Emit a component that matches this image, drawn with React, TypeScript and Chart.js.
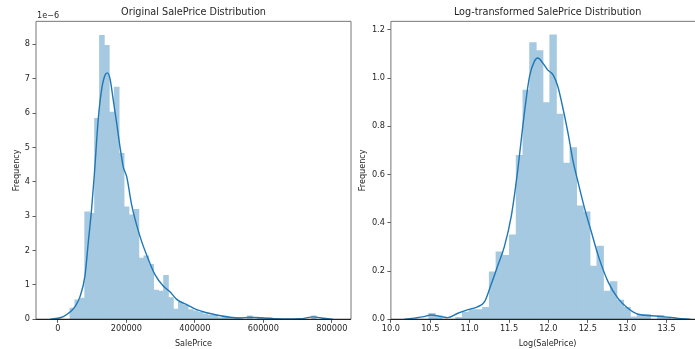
import React, { useEffect, useRef } from "react";
import { Chart, registerables } from "chart.js";

Chart.register(...registerables);

// ---------- Left panel: SalePrice (density values in units of 1e-6) ----------
const priceBinStart = 34900;
const priceBinWidth = 14402;
const priceDensity = [
  0.33, 0.57, 0.62, 3.13, 3.08, 5.85, 8.26, 7.97, 6.03, 6.76,
  4.83, 3.27, 3.04, 3.2, 1.78, 1.85, 1.6, 0.85, 0.82, 1.28,
  0.63, 0.3, 0.5, 0.42, 0.28, 0.25, 0.2, 0.15, 0.12, 0.12,
  0.05, 0.08, 0.03, 0.03, 0.05, 0, 0.1, 0, 0.05, 0.02,
  0.05, 0, 0.02, 0, 0, 0, 0, 0, 0, 0.1,
];
const priceKdeX = [
  -23000, 0, 15800, 35300, 49900, 64500, 79100, 88800, 98700, 106300,
  118000, 127900, 137500, 144200, 152100, 161800, 171700, 181300, 191000, 200900,
  215500, 230100, 244700, 264000, 283500, 307700, 327300, 346900, 376100, 405300,
  434500, 463600, 502500, 530000, 560900, 609600, 660000, 706900, 745700, 775000, 803200,
];
const priceKdeY = [
  0.0, 0.03, 0.08, 0.21, 0.37, 0.66, 1.27, 2.25, 3.25, 4.2,
  5.85, 6.7, 7.1, 7.17, 7.0, 6.37, 5.7, 5.02, 4.43, 4.15,
  3.32, 2.74, 2.26, 1.75, 1.3, 0.97, 0.8, 0.58, 0.43, 0.28,
  0.19, 0.125, 0.06, 0.04, 0.06, 0.03, 0.01, 0.015, 0.07, 0.03, 0.0,
];
const priceTicks = [0, 200000, 400000, 600000, 800000];
const priceDensityTicks = [0, 1, 2, 3, 4, 5, 6, 7, 8];

// ---------- Right panel: Log(SalePrice) ----------
const logBinStart = 10.48;
const logBinWidth = 0.0854;
const logDensity = [
  0.025, 0.015, 0, 0, 0.008, 0.03, 0.04, 0.04, 0.05, 0.197,
  0.28, 0.265, 0.35, 0.68, 0.95, 1.147, 1.114, 0.898, 1.179, 0.851,
  0.647, 0.712, 0.47, 0.445, 0.221, 0.304, 0.117, 0.156, 0.08, 0.05,
  0.01, 0.02, 0.02, 0, 0.016, 0.008,
];
const logKdeX = [
  10.17, 10.3, 10.42, 10.51, 10.64, 10.72, 10.85, 10.97, 11.1, 11.19,
  11.27, 11.36, 11.44, 11.53, 11.6, 11.7, 11.76, 11.82, 11.866, 11.93,
  11.99, 12.06, 12.12, 12.18, 12.25, 12.31, 12.375, 12.46, 12.545, 12.63,
  12.757, 12.884, 13.01, 13.14, 13.31, 13.48, 13.65, 13.8,
];
const logKdeY = [
  0.0, 0.005, 0.011, 0.018, 0.011, 0.007, 0.025, 0.039, 0.052, 0.073,
  0.142, 0.225, 0.3, 0.43, 0.59, 0.868, 1.006, 1.068, 1.083, 1.062,
  1.034, 1.013, 0.965, 0.882, 0.771, 0.661, 0.571, 0.46, 0.363, 0.267,
  0.156, 0.087, 0.046, 0.021, 0.015, 0.01, 0.004, 0.0,
];
const logTicks = [10.0, 10.5, 11.0, 11.5, 12.0, 12.5, 13.0, 13.5];
const logDensityTicks = [0.0, 0.2, 0.4, 0.6, 0.8, 1.0, 1.2];

// ---------- styling ----------
const FONT = "DejaVu Sans";
const TEXT = "#262626";
const BAR = "rgb(165,201,225)";
const LINE = "#1f77b4";

const framePlugin = {
  id: "frame",
  afterDatasetsDraw(chart: any) {
    const { ctx, chartArea } = chart;
    const { left, right, top, bottom } = chartArea;
    ctx.save();
    ctx.lineWidth = 1;
    ctx.strokeStyle = "#777";
    ctx.beginPath();
    ctx.moveTo(left, bottom);
    ctx.lineTo(left, top);
    ctx.lineTo(right, top);
    ctx.lineTo(right, bottom);
    ctx.stroke();
    ctx.strokeStyle = "#222";
    ctx.lineWidth = 1.2;
    ctx.beginPath();
    ctx.moveTo(left, bottom);
    ctx.lineTo(right, bottom);
    ctx.stroke();
    ctx.restore();
  },
};

const offsetTextPlugin = (text: string) => ({
  id: "offsetText",
  afterDraw(chart: any) {
    const { ctx, chartArea } = chart;
    ctx.save();
    ctx.font = `8.1px "${FONT}"`;
    ctx.fillStyle = TEXT;
    ctx.textAlign = "left";
    ctx.textBaseline = "middle";
    ctx.fillText(text, chartArea.left + 1, chartArea.top - 5.6);
    ctx.restore();
  },
});

function makeConfig(opts: {
  title: string;
  xTitle: string;
  bars: { x: number; y: number }[];
  kde: { x: number; y: number }[];
  xMin: number;
  xMax: number;
  xTicks: number[];
  yMax: number;
  yTicks: number[];
  xFmt: (v: number) => string;
  yFmt: (v: number) => string;
  yAxisWidth: number;
  yTitlePad: number;
  rightPad: number;
  plugins: any[];
}) {
  const tickFont = { family: FONT, size: 8.2 };
  const labelFont = { family: FONT, size: 8.1 };
  return {
    type: "bar" as const,
    data: {
      datasets: [
        {
          type: "line" as const,
          data: opts.kde,
          borderColor: LINE,
          borderWidth: 1.4,
          pointRadius: 0,
          fill: false,
          cubicInterpolationMode: "monotone" as const,
          order: 0,
        },
        {
          type: "bar" as const,
          data: opts.bars,
          backgroundColor: BAR,
          borderWidth: 0,
          barPercentage: 1,
          categoryPercentage: 1,
          order: 1,
        },
      ],
    },
    options: {
      responsive: false,
      animation: false as const,
      events: [],
      layout: { padding: { left: 0, top: 0, right: opts.rightPad, bottom: 0 } },
      plugins: {
        legend: { display: false },
        tooltip: { enabled: false },
        title: {
          display: true,
          text: opts.title,
          fullSize: false,
          color: TEXT,
          font: { family: FONT, size: 9.7, weight: "normal" as const },
          padding: { top: 6.9, bottom: 2.8 },
        },
      },
      scales: {
        x: {
          type: "linear" as const,
          min: opts.xMin,
          max: opts.xMax,
          offset: false,
          grid: {
            display: true,
            offset: false,
            drawOnChartArea: false,
            drawTicks: true,
            tickLength: 3.5,
            tickColor: "#333",
            tickWidth: 0.8,
          },
          border: { display: false },
          ticks: {
            autoSkip: false,
            maxRotation: 0,
            padding: 1,
            color: TEXT,
            font: tickFont,
            callback: (v: any) => opts.xFmt(Number(v)),
          },
          afterBuildTicks: (s: any) => {
            s.ticks = opts.xTicks.map((value) => ({ value }));
          },
          title: {
            display: true,
            text: opts.xTitle,
            color: TEXT,
            font: labelFont,
            padding: { top: 4.8, bottom: 0 },
          },
          afterFit: (s: any) => {
            s.height = 29.7;
          },
        },
        y: {
          type: "linear" as const,
          min: 0,
          max: opts.yMax,
          grid: {
            display: true,
            drawOnChartArea: false,
            drawTicks: true,
            tickLength: 3.5,
            tickColor: "#333",
            tickWidth: 0.8,
          },
          border: { display: false },
          ticks: {
            padding: 2.5,
            color: TEXT,
            font: tickFont,
            callback: (v: any) => opts.yFmt(Number(v)),
          },
          afterBuildTicks: (s: any) => {
            s.ticks = opts.yTicks.map((value) => ({ value }));
          },
          title: {
            display: true,
            text: "Frequency",
            color: TEXT,
            font: labelFont,
            padding: { top: opts.yTitlePad, bottom: 0 },
          },
          afterFit: (s: any) => {
            s.width = opts.yAxisWidth;
          },
        },
      },
    },
    plugins: opts.plugins,
  };
}

function ChartCanvas({ config, left, width }: { config: any; left: number; width: number }) {
  const ref = useRef<HTMLCanvasElement | null>(null);
  useEffect(() => {
    if (!ref.current) return;
    const chart = new Chart(ref.current, config);
    return () => chart.destroy();
  }, [config]);
  return (
    <canvas
      ref={ref}
      width={width}
      height={349}
      style={{ position: "absolute", left, top: 0, width, height: 349, display: "block" }}
    />
  );
}

const priceBars = priceDensity.map((y, i) => ({ x: priceBinStart + (i + 0.5) * priceBinWidth, y }));
const priceKde = priceKdeX.map((x, i) => ({ x, y: priceKdeY[i] }));
const logBars = logDensity.map((y, i) => ({ x: logBinStart + (i + 0.5) * logBinWidth, y }));
const logKde = logKdeX.map((x, i) => ({ x, y: logKdeY[i] }));

const leftConfig = makeConfig({
  title: "Original SalePrice Distribution",
  xTitle: "SalePrice",
  bars: priceBars,
  kde: priceKde,
  xMin: -64000,
  xMax: 856000,
  xTicks: priceTicks,
  yMax: 8.67,
  yTicks: priceDensityTicks,
  xFmt: (v) => String(Math.round(v)),
  yFmt: (v) => String(Math.round(v)),
  yAxisWidth: 36,
  yTitlePad: 11.6,
  rightPad: 14,
  plugins: [framePlugin, offsetTextPlugin("1e\u22126")],
});

const rightConfig = makeConfig({
  title: "Log-transformed SalePrice Distribution",
  xTitle: "Log(SalePrice)",
  bars: logBars,
  kde: logKde,
  xMin: 10.0,
  xMax: 13.98,
  xTicks: logTicks,
  yMax: 1.235,
  yTicks: logDensityTicks,
  xFmt: (v) => v.toFixed(1),
  yFmt: (v) => v.toFixed(1),
  yAxisWidth: 40.9,
  yTitlePad: 8.3,
  rightPad: 5.7,
  plugins: [framePlugin],
});

export default function App() {
  return (
    <div
      style={{
        position: "fixed",
        left: 0,
        top: 0,
        width: 695,
        height: 349,
        overflow: "hidden",
        background: "#fff",
      }}
    >
      <ChartCanvas config={leftConfig} left={0} width={365} />
      <ChartCanvas config={rightConfig} left={350} width={360} />
    </div>
  );
}
